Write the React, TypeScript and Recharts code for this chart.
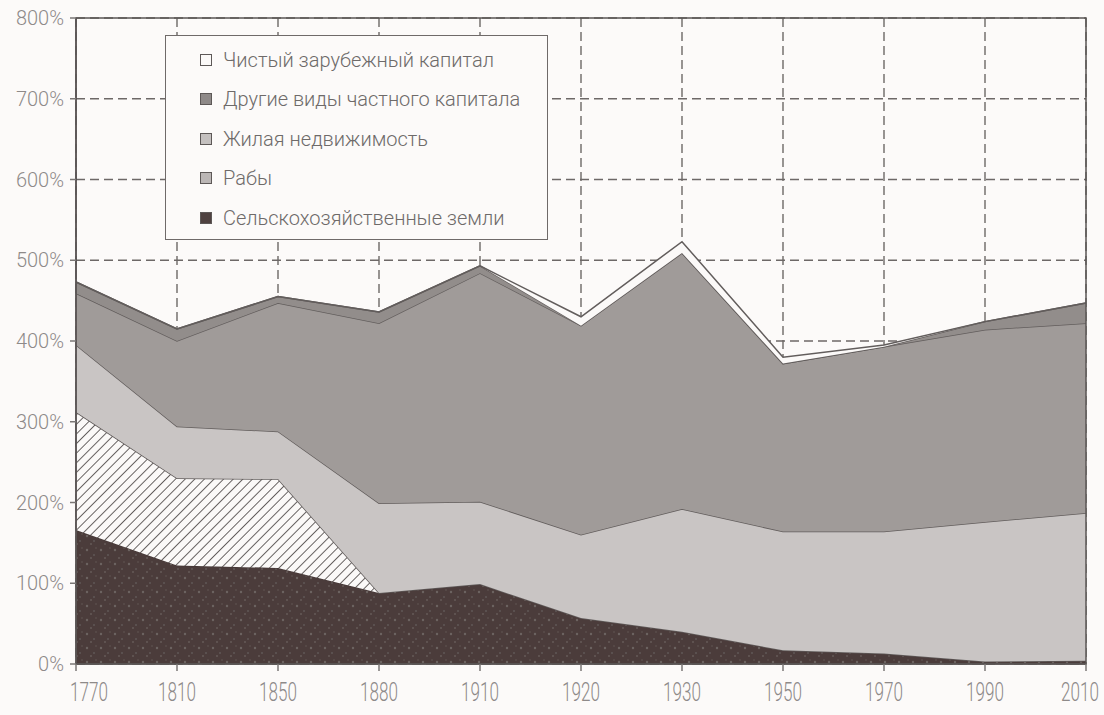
import React from "react";
import {
  AreaChart,
  Area,
  XAxis,
  YAxis,
  CartesianGrid,
  ReferenceArea,
  Legend,
} from "recharts";

// годы по оси X (шаг неравномерный, но точки стоят на равных расстояниях)
const years = ["1770", "1810", "1850", "1880", "1910", "1920", "1930", "1950", "1970", "1990", "2010"];

// значения в % национального дохода, снизу вверх
const farmland = [166, 122, 119, 88, 99, 57, 40, 17, 13, 3, 4];
const slaves = [146, 108, 110, 0, 0, 0, 0, 0, 0, 0, 0];
const housing = [83, 64, 59, 111, 102, 103, 152, 147, 151, 173, 183];
const otherCapital = [64, 106, 159, 223, 283, 259, 317, 208, 229, 238, 235];
// отрицательный чистый зарубежный капитал рисуется серой полосой сверху
const foreignNegative = [14, 15, 8, 14, 9, 0, 0, 0, 0, 10, 25];
const foreignCapital = [0, 0, 0, 0, 0, 11, 14, 8, 2, 0, 0];

const yTicks = [0, 100, 200, 300, 400, 500, 600, 700, 800];

const legendItems = [
  { name: "Чистый зарубежный капитал", color: "#fbf9f8" },
  { name: "Другие виды частного капитала", color: "#8e8988" },
  { name: "Жилая недвижимость", color: "#c4c0bf" },
  { name: "Рабы", color: "#bbb6b5" },
  { name: "Сельскохозяйственные земли", color: "#4f4140" },
];

const data = years.map((year, i) => ({
  year,
  farmland: farmland[i],
  slaves: slaves[i],
  housing: housing[i],
  otherCapital: otherCapital[i],
  foreignNegative: foreignNegative[i],
  foreignCapital: foreignCapital[i],
}));

const FONT = "Roboto, 'DejaVu Sans', sans-serif";
const LINE = "#625d5c";
const AXIS = "#5a5554";

function LegendBox() {
  return (
    <div
      style={{
        width: 383,
        height: 205,
        boxSizing: "border-box",
        border: "1.5px solid #6f6a69",
        background: "#fcfaf9",
        paddingTop: 4,
        paddingLeft: 34,
      }}
    >
      {legendItems.map((item) => (
        <div key={item.name} style={{ display: "flex", alignItems: "center", height: 39.5 }}>
          <span
            style={{
              width: 10,
              height: 10,
              border: "1.5px solid #5d5857",
              background: item.color,
              marginRight: 11,
              flex: "none",
            }}
          />
          <span style={{ fontSize: 20, color: "#6e6a69", fontFamily: FONT, fontWeight: 300, whiteSpace: "nowrap" }}>
            {item.name}
          </span>
        </div>
      ))}
    </div>
  );
}

function YearTick(props: any) {
  const { x, y, payload, index } = props;
  const last = index === years.length - 1;
  const anchor = index === 0 ? "start" : "middle";
  const dx = index === 0 ? -6 : last ? -6 : 0;
  return (
    <g transform={`translate(${x + dx},${y})`}>
      <text
        textAnchor={anchor}
        transform="scale(0.95,1.45)"
        dy="0.71em"
        fontSize={18}
        fontFamily={FONT}
        fontWeight={300}
        fill="#8e8a89"
      >
        {payload.value}
      </text>
    </g>
  );
}

export default function App() {
  return (
    <div style={{ position: "fixed", left: 0, top: 0, width: 1104, height: 715, background: "#fcfaf9" }}>
      <AreaChart width={1104} height={715} data={data} margin={{ top: 18, right: 18, bottom: 0, left: 0 }}>
        <defs>
          <pattern id="hatch" patternUnits="userSpaceOnUse" width="6.8" height="6.8" patternTransform="rotate(45)">
            <rect width="6.8" height="6.8" fill="#fbf9f8" />
            <line x1="0" y1="0" x2="0" y2="6.8" stroke="#4e4948" strokeWidth="1.7" />
          </pattern>
          <pattern id="soil" patternUnits="userSpaceOnUse" width="14" height="14">
            <rect width="14" height="14" fill="#4b3c3b" />
            <circle cx="3" cy="4" r="1.2" fill="#6c6361" />
            <circle cx="10" cy="9" r="1" fill="#5f5655" />
            <circle cx="7" cy="12" r="0.8" fill="#776d6b" />
            <circle cx="12" cy="2" r="0.7" fill="#665c5a" />
          </pattern>
        </defs>
        <CartesianGrid stroke="#6d6867" strokeWidth={1.4} strokeDasharray="9 5" />
        <XAxis
          dataKey="year"
          height={51}
          axisLine={{ stroke: AXIS, strokeWidth: 1.5 }}
          tickLine={{ stroke: "#7a7675", strokeWidth: 1.5 }}
          tickSize={7}
          tickMargin={11}
          interval={0}
          tick={<YearTick />}
        />
        <YAxis
          width={76}
          domain={[0, 800]}
          ticks={yTicks}
          tickFormatter={(v: number) => `${v}%`}
          axisLine={{ stroke: AXIS, strokeWidth: 1.5 }}
          tickLine={{ stroke: "#7a7675", strokeWidth: 1.5 }}
          tickSize={6}
          tickMargin={6}
          tick={{ fontSize: 20, fill: "#8e8a89", fontFamily: FONT, fontWeight: 300 }}
        />
        <Legend
          layout="vertical"
          align="center"
          verticalAlign="middle"
          wrapperStyle={{ left: 165, top: 35, width: 383, height: 205 }}
          content={<LegendBox />}
        />
        <Area type="linear" dataKey="farmland" stackId="1" stroke="#3f3231" strokeWidth={1} fill="url(#soil)" fillOpacity={1} isAnimationActive={false} activeDot={false} />
        <Area type="linear" dataKey="slaves" stackId="1" stroke={LINE} strokeWidth={1.5} fill="url(#hatch)" fillOpacity={1} isAnimationActive={false} activeDot={false} />
        <Area type="linear" dataKey="housing" stackId="1" stroke={LINE} strokeWidth={1.5} fill="#c9c5c4" fillOpacity={1} isAnimationActive={false} activeDot={false} />
        <Area type="linear" dataKey="otherCapital" stackId="1" stroke={LINE} strokeWidth={1.5} fill="#a09b99" fillOpacity={1} isAnimationActive={false} activeDot={false} />
        <Area type="linear" dataKey="foreignNegative" stackId="1" stroke={LINE} strokeWidth={1.5} fill="#928d8b" fillOpacity={1} isAnimationActive={false} activeDot={false} legendType="none" />
        <Area type="linear" dataKey="foreignCapital" stackId="1" stroke={LINE} strokeWidth={1.5} fill="#fbf9f8" fillOpacity={1} isAnimationActive={false} activeDot={false} />
        {/* рамка области построения */}
        <ReferenceArea
          x1={years[0]}
          x2={years[years.length - 1]}
          y1={0}
          y2={800}
          fill="none"
          fillOpacity={0}
          stroke={AXIS}
          strokeWidth={1.5}
          ifOverflow="visible"
        />
      </AreaChart>
    </div>
  );
}
